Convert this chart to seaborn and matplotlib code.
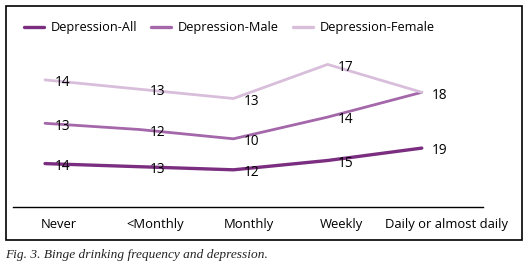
import numpy as np
import pandas as pd
import matplotlib
matplotlib.use("Agg")
import matplotlib.pyplot as plt
import seaborn as sns
from matplotlib.patches import Rectangle

# values shown on the chart (stacked line chart)
categories = ["Never", "<Monthly", "Monthly", "Weekly", "Daily or almost daily"]
series = ["Depression-All", "Depression-Male", "Depression-Female"]
dep_all = [14, 13, 12, 15, 19]
dep_male = [13, 12, 10, 14, 18]
dep_female = [14, 13, 13, 17, 0]
colors = ["#7b2e80", "#a467aa", "#d8bedb"]

sns.set_theme(style="white")
plt.rcParams["font.family"] = ["Open Sans", "DejaVu Sans"]

stack = np.cumsum(np.array([dep_all, dep_male, dep_female], dtype=float), axis=0)
raw = [dep_all, dep_male, dep_female]
rows = []
for s, vals in zip(series, stack):
    for i, v in enumerate(vals):
        rows.append({"pos": i, "value": v, "series": s})
df = pd.DataFrame(rows)

W, H = 529, 270
fig = plt.figure(figsize=(W / 100, H / 100), dpi=100)
ax = fig.add_axes([13 / W, 1 - 207 / H, (483 - 13) / W, (207 - 40) / H])

sns.lineplot(data=df, x="pos", y="value", hue="series", hue_order=series,
             palette=colors, ax=ax, linewidth=2.0, legend=True)
for line, lw in zip(ax.get_lines(), [2.4, 2.0, 2.0]):
    line.set_linewidth(lw)

ax.set_xlim(-0.34, 4.65)
ax.set_ylim(0, (207 - 40) / 3.1)

# value labels
for vals, labs in zip(stack, raw):
    for i, (v, lab) in enumerate(zip(vals, labs)):
        if lab == 0:
            continue
        ax.annotate(str(lab), (i + 0.19, v), xytext=(0, -2), textcoords="offset points",
                    ha="center", va="center", fontsize=9.8, color="black")

# category labels sit a little right of the points, as in the original
ax.set_xticks(np.arange(len(categories)) + np.array([0.15, 0.17, 0.16, 0.15, 0.26]))
ax.set_xticklabels(categories, fontsize=9.4, color="black")
ax.tick_params(axis="x", length=0, pad=8)
ax.set_yticks([])
ax.set_xlabel("")
ax.set_ylabel("")
for side in ["top", "right", "left"]:
    ax.spines[side].set_visible(False)
ax.spines["bottom"].set_color("black")
ax.spines["bottom"].set_linewidth(1.0)

sns.move_legend(ax, "center left", bbox_to_anchor=(12 / W, 1 - 28 / H),
                bbox_transform=fig.transFigure, ncol=3, frameon=False, title=None,
                fontsize=9.2, handlelength=1.6, handletextpad=0.5, columnspacing=1.1)
for t in ax.get_legend().get_texts():
    t.set_color("black")
for h in ax.get_legend().get_lines():
    h.set_linewidth(2.4)

# outer frame
fig.patches.append(Rectangle((6 / W, 1 - 240 / H), 516 / W, 234 / H,
                             transform=fig.transFigure, fill=False,
                             edgecolor="black", linewidth=1.2))

fig.text(5 / W, 1 - 255 / H, "Fig. 3. Binge drinking frequency and depression.",
         fontsize=9.6, style="italic", family="Liberation Serif",
         ha="left", va="center", color="#222222")

fig.savefig("out.png", dpi=100)
